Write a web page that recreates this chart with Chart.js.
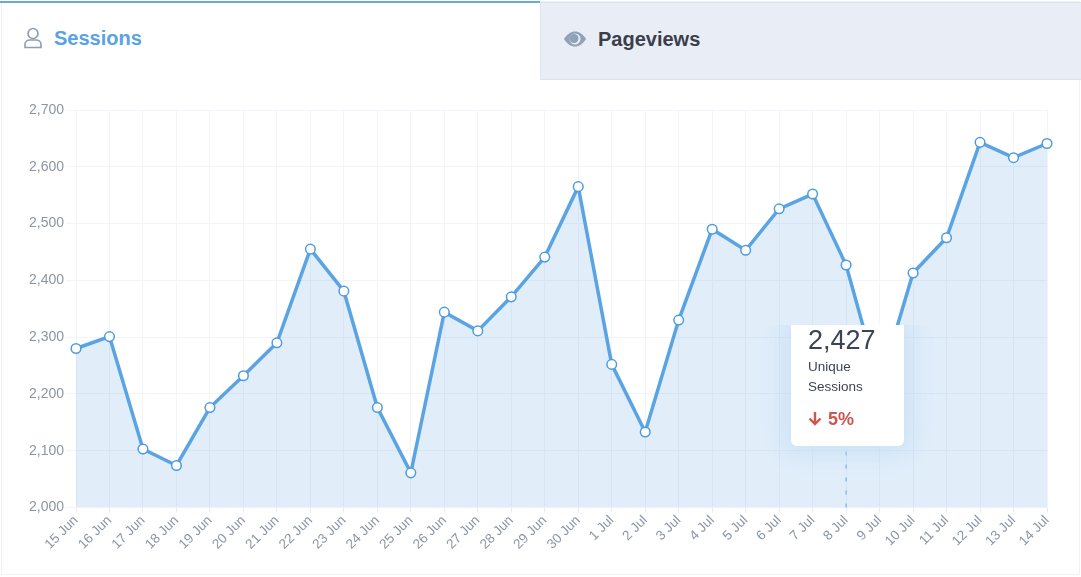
<!DOCTYPE html>
<html>
<head>
<meta charset="utf-8">
<title>Sessions</title>
<script src="https://cdn.jsdelivr.net/npm/chart.js@4"></script>
<style>
  html, body { margin: 0; padding: 0; background: #fff; }
  body { width: 1081px; height: 577px; position: relative; overflow: hidden; font-family: "Liberation Sans", Arial, sans-serif; }

  /* card + tabs */
  .card { position: absolute; left: 1px; top: 1px; width: 1077px; height: 572px; border: 1px solid #eef1f8; }
  .tab-line { position: absolute; left: 0; top: 1px; width: 540px; height: 2px; background: #6ba6dc; }
  .tab-off { position: absolute; left: 540px; top: 2px; width: 541px; height: 78px; background: #e9edf6; border: 1px solid #dbe3ef; border-right: 0; box-sizing: border-box; }
  .tab-label { position: absolute; font-weight: 700; font-size: 20px; line-height: 24px; }
  #sessions { left: 54px; top: 26px; color: #58a3e4; }
  #pageviews { left: 598px; top: 27px; color: #3a3f4b; }
  .icon { position: absolute; }

  canvas { position: absolute; left: 0; top: 0; }

  /* value box over 8 Jul */
  .box { position: absolute; left: 791px; top: 325px; width: 113px; height: 121px; background: #fff; border-radius: 0 0 6px 6px;
         box-shadow: 0 0 24px 8px rgba(190, 218, 245, 0.6); clip-path: inset(0 -40px -40px -40px); color: #3c4454; }
  .box .num { position: absolute; left: 17px; top: -1px; font-size: 27px; line-height: 32px; }
  .box .lbl { position: absolute; left: 17px; top: 32px; font-size: 13.5px; line-height: 20px; }
  .box .pct { position: absolute; left: 37px; top: 83px; font-size: 18px; line-height: 22px; font-weight: 700; color: #cf5551; }
  .box svg { position: absolute; left: 17px; top: 86px; }
</style>
</head>
<body>
<div class="card"></div>
<div class="tab-line"></div>
<div class="tab-off"></div>
<svg class="icon" style="left:23px;top:27px" width="20" height="22" viewBox="0 0 20 22" fill="none" stroke="#8d9db2" stroke-width="1.600">
  <circle cx="10" cy="6.500" r="5"/>
  <path d="M2 20.500h16v-3c0-3-2.500-4.500-5-4.500h-6c-2.500 0-5 1.500-5 4.500z"/>
</svg>
<div class="tab-label" id="sessions">Sessions</div>
<svg class="icon" style="left:563px;top:30px" width="24" height="18" viewBox="0 0 24 18">
  <path d="M1 9C4 4 8 1.500 12 1.500S20 4 23 9c-3 5-7 7.500-11 7.500S4 14 1 9z" fill="#8ea3b8"/>
  <circle cx="12" cy="9" r="5.500" fill="#e9edf6"/>
  <circle cx="11" cy="8.500" r="4.500" fill="#8ea3b8"/>
</svg>
<div class="tab-label" id="pageviews">Pageviews</div>

<canvas id="chartSessions" width="1081" height="577"></canvas>

<div class="box">
  <div class="num" id="boxNum"></div>
  <div class="lbl">Unique<br>Sessions</div>
  <svg width="14" height="15" viewBox="0 0 14 15" fill="none" stroke="#cf5551" stroke-width="2.400"><path d="M7 1v12M1.500 7.500L7 13l5.500-5.500"/></svg>
  <div class="pct">5%</div>
</div>

<script>
  const days = ['15 Jun','16 Jun','17 Jun','18 Jun','19 Jun','20 Jun','21 Jun','22 Jun','23 Jun','24 Jun','25 Jun','26 Jun','27 Jun','28 Jun','29 Jun','30 Jun','1 Jul','2 Jul','3 Jul','4 Jul','5 Jul','6 Jul','7 Jul','8 Jul','9 Jul','10 Jul','11 Jul','12 Jul','13 Jul','14 Jul'];
  const sessions = [2280,2301,2103,2074,2176,2232,2290,2455,2381,2176,2061,2344,2311,2371,2441,2565,2252,2133,2330,2490,2453,2526,2552,2427,2215,2413,2475,2643,2616,2641];
  const yTicks = [2000,2100,2200,2300,2400,2500,2600,2700];
  const hoverDay = '8 Jul';

  const tickColor = '#8b95a5';
  const gridColor = '#f1f4fb';

  document.getElementById('boxNum').textContent = sessions[days.indexOf(hoverDay)].toLocaleString('en-US');

  /* dashed guide, only the part below the value box shows */
  const guideLine = {
    id: 'guideLine',
    afterDatasetsDraw(chart) {
      const x = chart.scales.x.getPixelForValue(days.indexOf(hoverDay));
      const c = chart.ctx;
      c.save();
      c.strokeStyle = '#5ba4e3';
      c.lineWidth = 1;
      c.setLineDash([4, 9]);
      c.beginPath();
      c.moveTo(x, chart.chartArea.bottom);
      c.lineTo(x, 446);
      c.stroke();
      c.restore();
    }
  };

  new Chart(document.getElementById('chartSessions'), {
    type: 'line',
    data: {
      labels: days,
      datasets: [{
        data: sessions,
        borderColor: '#5ba4e3',
        backgroundColor: 'rgba(91, 160, 225, 0.18)',
        fill: true,
        tension: 0,
        borderWidth: 3.5,
        pointBackgroundColor: '#fff',
        pointBorderColor: '#4f9bdf',
        pointBorderWidth: 1.5,
        pointRadius: 4.8
      }]
    },
    options: {
      responsive: false,
      animation: false,
      layout: { padding: { top: 110, right: 34, left: 0, bottom: 0 } },
      plugins: { legend: { display: false }, tooltip: { enabled: false } },
      scales: {
        x: {
          offset: false,
          afterFit: s => { s.height = 69.5; },
          grid: { color: gridColor, tickColor: '#e6e9f0', tickLength: 5 },
          border: { color: gridColor },
          ticks: { autoSkip: false, minRotation: 45, maxRotation: 45, color: tickColor, padding: 0, font: { family: '"Liberation Sans", Arial, sans-serif', size: 13.5 } }
        },
        y: {
          min: 2000,
          max: 2700,
          afterFit: s => { s.width = 76; },
          afterBuildTicks: s => { s.ticks = yTicks.map(v => ({ value: v })); },
          grid: { color: gridColor, tickColor: gridColor, tickLength: 10 },
          border: { color: gridColor },
          ticks: { color: tickColor, padding: 2, font: { family: '"Liberation Sans", Arial, sans-serif', size: 14 }, callback: v => v.toLocaleString('en-US') }
        }
      }
    },
    plugins: [guideLine]
  });
</script>
</body>
</html>
